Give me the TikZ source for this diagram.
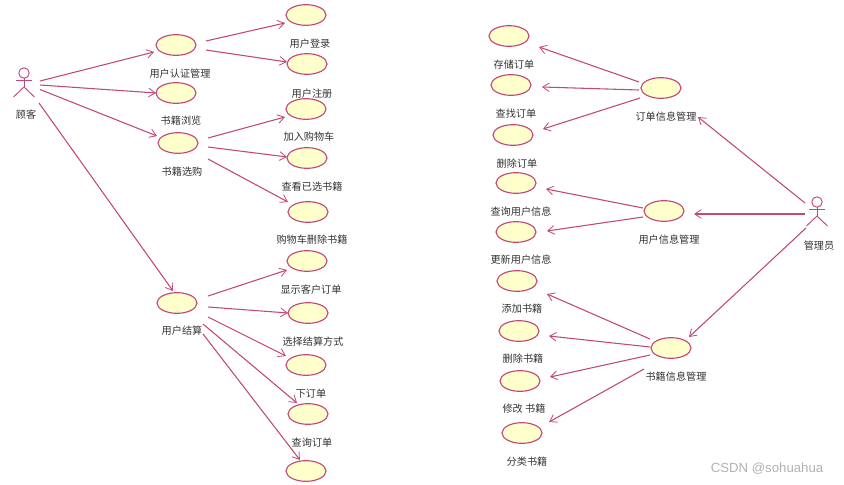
\documentclass[tikz,border=0pt]{standalone}
\usepackage{fontspec}
\newfontfamily\cjk{Noto Sans CJK SC}
\usetikzlibrary{arrows.meta,shapes.geometric}
\definecolor{umlline}{HTML}{C2477A}
\definecolor{umlfill}{HTML}{FFFFCC}
\tikzset{
  usecase/.style={draw=umlline,fill=umlfill,line width=0.85pt,ellipse,minimum width=30pt,minimum height=15.5pt,inner sep=0pt},
  lab/.style={font=\cjk\fontsize{7.6pt}{9pt}\selectfont,text=black!80,inner sep=0pt},
  rel/.style={draw=umlline,line width=0.8pt,-{Straight Barb[length=5pt,width=6.5pt,line width=0.6pt]}},
  stick/.style={draw=umlline,line width=0.7pt,fill=none}
}
\newcommand{\conn}[4]{\draw[rel] ([shift={(#2)}]#1.center) -- ([shift={(#4)}]#3.center);}
\newcommand{\stickman}[2]{%
  \draw[stick] ([shift={(0,-7)}]#1.center) circle[radius=3.9pt];
  \draw[stick] ([shift={(0,-2)}]#1.center) -- ([shift={(0,7)}]#1.center);
  \draw[stick] ([shift={(-8,0)}]#1.center) -- ([shift={(8,0)}]#1.center);
  \draw[stick] ([shift={(0,7)}]#1.center) -- ([shift={(#2,17)}]#1.center);
  \draw[stick] ([shift={(0,7)}]#1.center) -- ([shift={(-10.5,17)}]#1.center);
}
\begin{document}
\begin{tikzpicture}[x=0.75pt,y=-0.75pt]
\useasboundingbox[fill=white] (0,0) rectangle (844,485);
% actors
\coordinate (cust) at (24,80);
\coordinate (admin) at (817,209);
\stickman{cust}{10.5}
\stickman{admin}{10.5}
\node[lab] (lcust) at (26,115) {顾客};
\node[lab] (ladmin) at (819,246) {管理员};
% use cases
\foreach \n/\x/\y in {auth/176/45,browse/176/93,select/178/143,checkout/177/303,
  uone/306/15,utwo/307/64,addc/306/109,viewc/307/158,delc/308/212,
  showo/307/261,choose/308/313,place/306/365,ordr/308/414,query/306/471,
  store/509/36,find/511/85,delo/513/135,omgmt/661/88,
  queryu/516/183,update/516/232,umgmt/664/211,
  addb/517/281,delb/519/331,modb/520/381,catb/522/433,bmgmt/671/348}
  \node[usecase] (\n) at (\x,\y) {};
% labels
\node[lab] (l1) at (180,74) {用户认证管理};
\node[lab] (l2) at (181,121) {书籍浏览};
\node[lab] (l3) at (182,172) {书籍选购};
\node[lab] (l4) at (182,331) {用户结算};
\node[lab] (l5) at (310,44) {用户登录};
\node[lab] (l6) at (312,94) {用户注册};
\node[lab] (l7) at (309,137) {加入购物车};
\node[lab] (l8) at (312,187) {查看已选书籍};
\node[lab] (l9) at (312,240) {购物车删除书籍};
\node[lab] (l10) at (311,290) {显示客户订单};
\node[lab] (l11) at (313,342) {选择结算方式};
\node[lab] (l12) at (311,394) {下订单};
\node[lab] (l13) at (312,443) {查询订单};
\node[lab] (r1) at (514,65) {存储订单};
\node[lab] (r2) at (516,114) {查找订单};
\node[lab] (r3) at (517,164) {删除订单};
\node[lab] (r4) at (666,117) {订单信息管理};
\node[lab] (r5) at (521,212) {查询用户信息};
\node[lab] (r6) at (521,260) {更新用户信息};
\node[lab] (r7) at (669,240) {用户信息管理};
\node[lab] (r8) at (522,309) {添加书籍};
\node[lab] (r9) at (523,359) {删除书籍};
\node[lab] (r10) at (524,409) {修改 书籍};
\node[lab] (r11) at (527,462) {分类书籍};
\node[lab] (r12) at (676,377) {书籍信息管理};
\node[font=\fontspec{Liberation Sans}\fontsize{9.9pt}{11pt}\selectfont,text=black!30,inner sep=0pt] (wm) at (767,469) {CSDN @sohuahua};
% connectors
\conn{cust}{16,1}{auth}{-22,7}
\conn{cust}{16,5}{browse}{-20,0}
\conn{cust}{16,9.5}{select}{-21,-7}
\conn{cust}{15,23}{checkout}{-4,-12}
\conn{auth}{30,-4}{uone}{-21,8}
\conn{auth}{30,5}{utwo}{-20,-2}
\conn{select}{30,-5}{addc}{-21,8}
\conn{select}{30,4}{viewc}{-20,-1}
\conn{select}{30,16}{delc}{-20,-10}
\conn{checkout}{31,-7}{showo}{-20,9}
\conn{checkout}{31,4}{choose}{-20,0}
\conn{checkout}{31,14}{place}{-20,-9}
\conn{checkout}{26,21}{ordr}{-11,-11}
\conn{checkout}{26,31}{query}{-6,-11}
\conn{omgmt}{-22,-6}{store}{30,11}
\conn{omgmt}{-22,2}{find}{31,2}
\conn{omgmt}{-21,10}{delo}{30,-6}
\conn{admin}{-12,-6}{omgmt}{37,29}
\conn{admin}{-12,5}{umgmt}{30,3}
\conn{admin}{-11,19}{bmgmt}{18,-11}
\conn{umgmt}{-21,-3}{queryu}{30,6}
\conn{umgmt}{-21,6}{update}{31,-1}
\conn{bmgmt}{-21,-9}{addb}{30,13}
\conn{bmgmt}{-21,-1}{delb}{30,5}
\conn{bmgmt}{-21,7}{modb}{30,-4}
\conn{bmgmt}{-27,21}{catb}{27,-11}
\end{tikzpicture}
\end{document}
